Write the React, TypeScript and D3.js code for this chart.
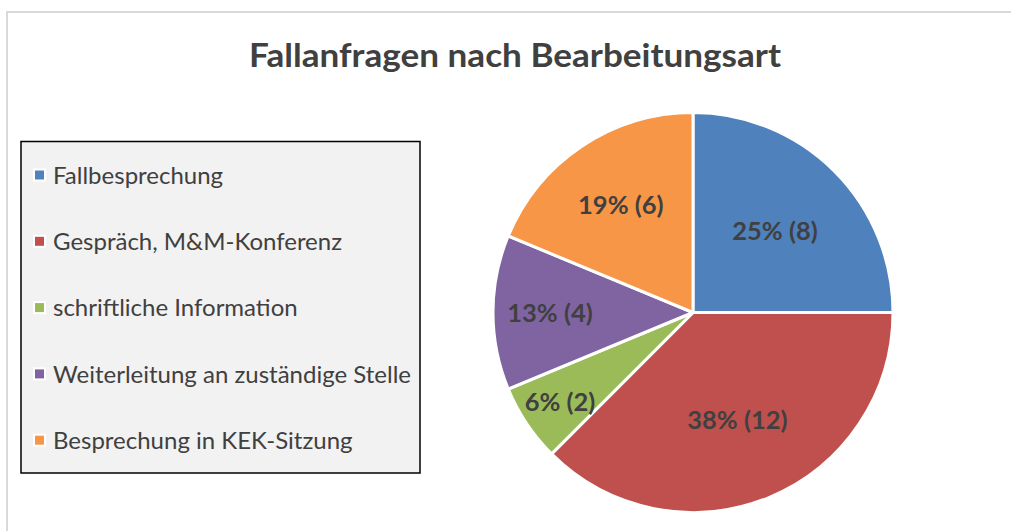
import React from "react";
import * as d3 from "d3";

const categories = [
  "Fallbesprechung",
  "Gespräch, M&M-Konferenz",
  "schriftliche Information",
  "Weiterleitung an zuständige Stelle",
  "Besprechung in KEK-Sitzung",
];
const counts = [8, 12, 2, 4, 6];
const colors = ["#4f81bd", "#c0504d", "#9bbb59", "#8064a2", "#f79646"];
const title = "Fallanfragen nach Bearbeitungsart";

// label placement (fraction of radius), as Excel nudges small slices outward
const labelRadiusFactor = [0.58, 0.58, 0.8, 0.715, 0.65];

const W = 1011;
const H = 531;
const FONT = "Lato, 'Open Sans', sans-serif";
const TEXT = "#404040";

export default function App() {
  const cx = 693;
  const cy = 312.5;
  const r = 200;
  const total = d3.sum(counts);
  const pie = d3
    .pie<number>()
    .sort(null)
    .value((d) => d)
    .startAngle(0)
    .endAngle(2 * Math.PI);
  const arcs = pie(counts);
  const arc = d3.arc<d3.PieArcDatum<number>>().innerRadius(0).outerRadius(r);

  const legendX = 21;
  const legendY = 141.5;
  const legendW = 399;
  const legendH = 331.5;
  const legendStep = 66.3;
  const legendFirst = 175;

  return (
    <svg
      width={W}
      height={H}
      style={{ position: "absolute", left: 0, top: 0 }}
      fontFamily={FONT}
    >
      <rect x={0} y={0} width={W} height={H} fill="#fff" />
      <rect
        x={7}
        y={12}
        width={W + 20}
        height={H + 20}
        fill="#fff"
        stroke="#d9d9d9"
        strokeWidth={2}
      />
      <text
        x={515}
        y={67}
        textAnchor="middle"
        fontSize={32}
        fontWeight="bold"
        fill={TEXT}
        textLength={532}
        lengthAdjust="spacingAndGlyphs"
      >
        {title}
      </text>

      <g transform={`translate(${cx},${cy})`}>
        {arcs.map((a, i) => (
          <path
            key={i}
            d={arc(a) || ""}
            fill={colors[i]}
            stroke="#fff"
            strokeWidth={3}
            strokeLinejoin="round"
          />
        ))}
        {arcs.map((a, i) => {
          const mid = (a.startAngle + a.endAngle) / 2;
          const lr = r * labelRadiusFactor[i];
          const x = Math.sin(mid) * lr;
          const y = -Math.cos(mid) * lr;
          const pct = Math.round((counts[i] / total) * 100);
          return (
            <text
              key={i}
              x={x}
              y={y}
              dy="0.36em"
              textAnchor="middle"
              fontSize={25.5}
              fontWeight="bold"
              fill={TEXT}
            >
              {`${pct}% (${counts[i]})`}
            </text>
          );
        })}
      </g>

      <rect
        x={legendX}
        y={legendY}
        width={legendW}
        height={legendH}
        fill="#f2f2f2"
        stroke="#000"
        strokeWidth={1.5}
      />
      {categories.map((c, i) => {
        const y = legendFirst + i * legendStep;
        return (
          <g key={c}>
            <rect x={33} y={y - 6.5} width={13} height={13} fill="#fff" />
            <rect x={35} y={y - 4.5} width={9} height={9} fill={colors[i]} />
            <text x={53} y={y} dy="0.36em" fontSize={24} fill={TEXT}>
              {c}
            </text>
          </g>
        );
      })}
    </svg>
  );
}
